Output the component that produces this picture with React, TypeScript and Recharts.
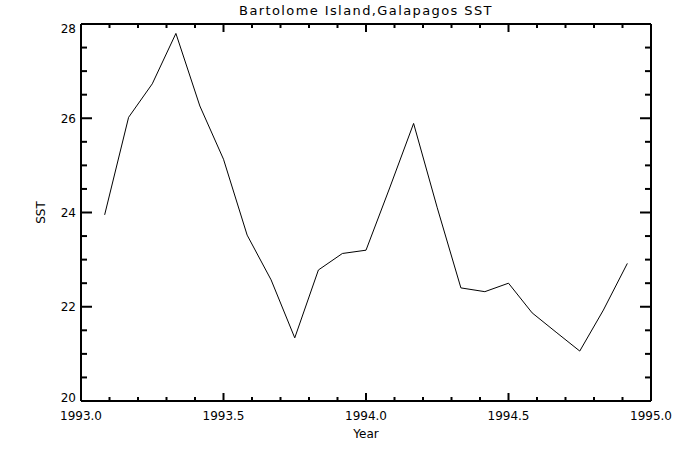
import { LineChart, Line, XAxis, YAxis } from "recharts";

const YEARS = [
  1993.083, 1993.167, 1993.25, 1993.333, 1993.417, 1993.5, 1993.583, 1993.667,
  1993.75, 1993.833, 1993.917, 1994.0, 1994.083, 1994.167, 1994.25, 1994.333,
  1994.417, 1994.5, 1994.583, 1994.667, 1994.75, 1994.833, 1994.917,
];
const SST = [
  23.95, 26.02, 26.73, 27.8, 26.26, 25.13, 23.52, 22.57,
  21.34, 22.78, 23.13, 23.2, 24.52, 25.89, 24.1, 22.4,
  22.32, 22.5, 21.87, 21.46, 21.06, 21.93, 22.92,
];
const X_TICKS = [
  1993.0, 1993.1, 1993.2, 1993.3, 1993.4, 1993.5, 1993.6, 1993.7, 1993.8, 1993.9,
  1994.0, 1994.1, 1994.2, 1994.3, 1994.4, 1994.5, 1994.6, 1994.7, 1994.8, 1994.9, 1995.0,
];
const Y_TICKS = [20, 20.5, 21, 21.5, 22, 22.5, 23, 23.5, 24, 24.5, 25, 25.5, 26, 26.5, 27, 27.5, 28];
const X_MAJOR = [1993.0, 1993.5, 1994.0, 1994.5, 1995.0];
const Y_MAJOR = [20, 22, 24, 26, 28];

const data = YEARS.map((year, i) => ({ year, sst: SST[i] }));

const FONT = "'DejaVu Sans', sans-serif";
const isMajor = (v: number, list: number[]) => list.some((m) => Math.abs(m - v) < 1e-6);

// IDL style inward ticks, long on majors
const BottomTick = (p: any) => {
  const v = p.payload.value;
  const major = isMajor(v, X_MAJOR);
  return (
    <g>
      <line x1={p.x} x2={p.x} y1={p.y} y2={p.y - (major ? 8 : 4)} stroke="#000" strokeWidth={2} />
      {major && (
        <text x={p.x} y={p.y + 19} textAnchor="middle" fontSize={12} fontFamily={FONT} fill="#000">
          {v.toFixed(1)}
        </text>
      )}
    </g>
  );
};

const TopTick = (p: any) => {
  const major = isMajor(p.payload.value, X_MAJOR);
  return <line x1={p.x} x2={p.x} y1={p.y} y2={p.y + (major ? 8 : 4)} stroke="#000" strokeWidth={2} />;
};

const LeftTick = (p: any) => {
  const v = p.payload.value;
  const major = isMajor(v, Y_MAJOR);
  const dy = v === 28 ? 4 : v === 20 ? -4 : 0;
  return (
    <g>
      <line x1={p.x} x2={p.x + (major ? 11 : 6)} y1={p.y} y2={p.y} stroke="#000" strokeWidth={2} />
      {major && (
        <text x={p.x - 5} y={p.y + dy + 4.5} textAnchor="end" fontSize={12} fontFamily={FONT} fill="#000">
          {v}
        </text>
      )}
    </g>
  );
};

const RightTick = (p: any) => {
  const major = isMajor(p.payload.value, Y_MAJOR);
  return <line x1={p.x} x2={p.x - (major ? 11 : 6)} y1={p.y} y2={p.y} stroke="#000" strokeWidth={2} />;
};

const AXIS_LINE = { stroke: "#000", strokeWidth: 2 };

export default function App() {
  return (
    <div style={{ position: "absolute", left: 0, top: 0, width: 675, height: 450, background: "#fff" }}>
      <div
        style={{
          position: "absolute", left: 81, width: 570, top: 3, textAlign: "center",
          fontFamily: FONT, fontSize: 13, letterSpacing: 1.4, color: "#000",
        }}
      >
        Bartolome Island,Galapagos SST
      </div>
      <LineChart width={675} height={450} data={data} margin={{ top: 23, right: 23, bottom: 0, left: 0 }}>
        <XAxis
          xAxisId="bottom" dataKey="year" type="number" domain={[1993, 1995]} ticks={X_TICKS}
          interval={0} height={49} tickSize={0} tickMargin={0} tickLine={false}
          axisLine={AXIS_LINE} tick={<BottomTick />} allowDataOverflow
          label={{ value: "Year", position: "insideBottom", offset: 12, fontSize: 12, fontFamily: FONT, fill: "#000" }}
        />
        <XAxis
          xAxisId="top" orientation="top" dataKey="year" type="number" domain={[1993, 1995]} ticks={X_TICKS}
          interval={0} height={1} tickSize={0} tickMargin={0} tickLine={false}
          axisLine={AXIS_LINE} tick={<TopTick />} allowDataOverflow
        />
        <YAxis
          yAxisId="left" type="number" domain={[20, 28]} ticks={Y_TICKS} interval={0} width={81}
          tickSize={0} tickMargin={0} tickLine={false} axisLine={AXIS_LINE} tick={<LeftTick />} allowDataOverflow
          label={{ value: "SST", angle: -90, position: "center", dx: 0, fontSize: 12, fontFamily: FONT, fill: "#000" }}
        />
        <YAxis
          yAxisId="right" orientation="right" type="number" domain={[20, 28]} ticks={Y_TICKS} interval={0} width={1}
          tickSize={0} tickMargin={0} tickLine={false} axisLine={AXIS_LINE} tick={<RightTick />} allowDataOverflow
        />
        <Line
          xAxisId="bottom" yAxisId="left" type="linear" dataKey="sst" stroke="#000" strokeWidth={1}
          dot={false} isAnimationActive={false}
        />
      </LineChart>
    </div>
  );
}
